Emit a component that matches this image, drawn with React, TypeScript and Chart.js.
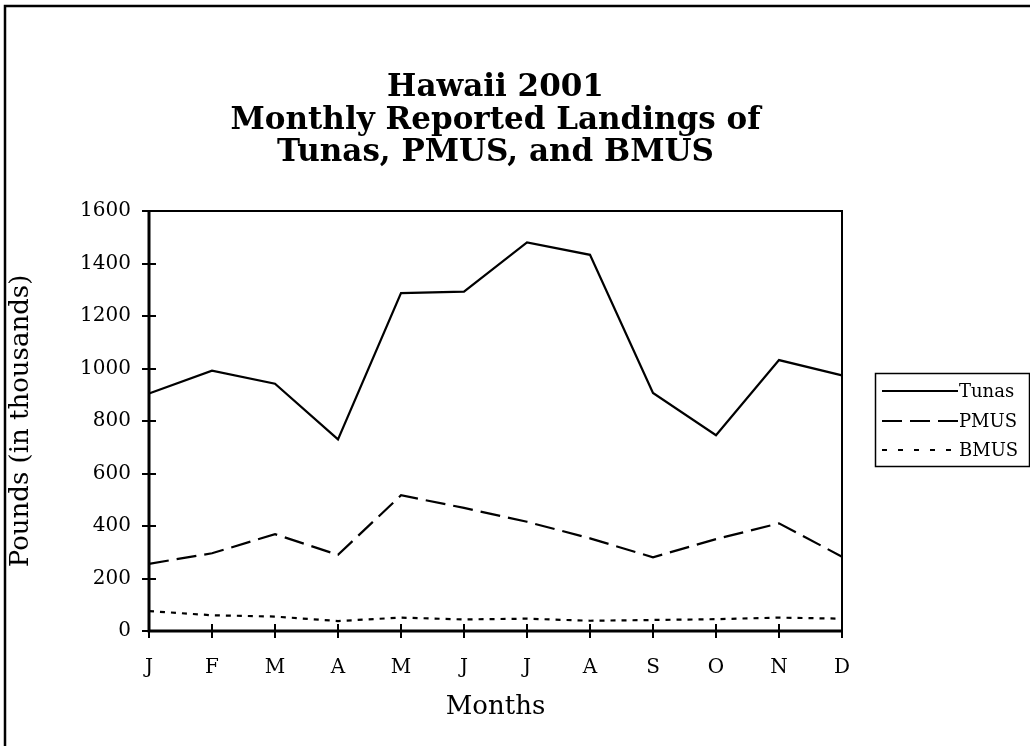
import React, { useEffect, useRef } from "react";
import { Chart, registerables } from "chart.js";

Chart.register(...registerables);

const months = ["J", "F", "M", "A", "M", "J", "J", "A", "S", "O", "N", "D"];
const tunas = [905, 992, 942, 730, 1287, 1293, 1480, 1433, 907, 746, 1032, 974];
const pmus = [256, 296, 369, 290, 517, 469, 416, 353, 281, 350, 410, 283];
const bmus = [76, 60, 55, 38, 51, 44, 47, 39, 42, 45, 51, 47];
const seriesNames = ["Tunas", "PMUS", "BMUS"];
const titleLines = ["Hawaii 2001", "Monthly Reported Landings of", "Tunas, PMUS, and BMUS"];
const yAxisTitle = "Pounds (in thousands)";
const xAxisTitle = "Months";
const yMin = 0;
const yMax = 1600;
const yStep = 200;

const FONT = "'DejaVu Serif', serif";
const legendDashes = [[], [20, 8], [5, 11]];

const framePlugin = {
  id: "frame",
  afterDraw(chart: any) {
    const { ctx, chartArea } = chart;
    const { left, right, top, bottom } = chartArea;
    ctx.save();
    ctx.strokeStyle = "#000";
    // outer border (top and left visible)
    ctx.lineWidth = 2.5;
    ctx.beginPath();
    ctx.moveTo(5, 760);
    ctx.lineTo(5, 6);
    ctx.lineTo(1040, 6);
    ctx.stroke();
    // plot box
    ctx.lineWidth = 2;
    ctx.beginPath();
    ctx.moveTo(left, top);
    ctx.lineTo(right, top);
    ctx.lineTo(right, bottom);
    ctx.stroke();
    ctx.lineWidth = 3;
    ctx.beginPath();
    ctx.moveTo(left, top - 1);
    ctx.lineTo(left, bottom);
    ctx.lineTo(right + 1, bottom);
    ctx.stroke();
    // tick marks crossing the axes
    ctx.lineWidth = 2;
    const ys = chart.scales.y;
    ys.ticks.forEach((_t: any, i: number) => {
      const py = Math.round(ys.getPixelForTick(i));
      ctx.beginPath();
      ctx.moveTo(left - 7, py);
      ctx.lineTo(left + 7, py);
      ctx.stroke();
    });
    const xs = chart.scales.x;
    xs.ticks.forEach((_t: any, i: number) => {
      const px = Math.round(xs.getPixelForTick(i));
      ctx.beginPath();
      ctx.moveTo(px, bottom - 7);
      ctx.lineTo(px, bottom + 7);
      ctx.stroke();
    });
    // legend
    const lx = 875.5, ly = 373.5, lw = 154, lh = 93;
    ctx.lineWidth = 1.5;
    ctx.strokeRect(lx, ly, lw, lh);
    const rows = [391, 421, 450];
    ctx.font = `18px ${FONT}`;
    ctx.textBaseline = "middle";
    ctx.textAlign = "left";
    ctx.fillStyle = "#000";
    chart.data.datasets.forEach((ds: any, i: number) => {
      ctx.save();
      ctx.lineWidth = ds.borderWidth;
      ctx.setLineDash(legendDashes[i]);
      ctx.beginPath();
      ctx.moveTo(882, rows[i]);
      ctx.lineTo(958, rows[i]);
      ctx.stroke();
      ctx.restore();
      ctx.fillText(ds.label, 959, rows[i] + 1);
    });
    ctx.restore();
  },
};

export default function App() {
  const ref = useRef<HTMLCanvasElement>(null);
  useEffect(() => {
    document.body.style.margin = "0";
    const chart = new Chart(ref.current as HTMLCanvasElement, {
      type: "line",
      data: {
        labels: months,
        datasets: [
          { label: seriesNames[0], data: tunas, borderColor: "#000", borderWidth: 2.2, borderDash: [], pointRadius: 0, tension: 0, fill: false },
          { label: seriesNames[1], data: pmus, borderColor: "#000", borderWidth: 2.2, borderDash: [20, 8], pointRadius: 0, tension: 0, fill: false },
          { label: seriesNames[2], data: bmus, borderColor: "#000", borderWidth: 2.2, borderDash: [5, 6], pointRadius: 0, tension: 0, fill: false },
        ],
      },
      options: {
        responsive: false,
        animation: false,
        devicePixelRatio: 1,
        layout: { padding: { left: 0, right: 39, top: 0, bottom: 0 } },
        plugins: {
          legend: { display: false },
          tooltip: { enabled: false },
          title: {
            display: true,
            text: titleLines,
            color: "#000",
            font: { family: FONT, size: 31, weight: "bold", lineHeight: 32.5 / 31 },
            padding: { top: 71.75, bottom: 41.75 },
          },
        },
        scales: {
          x: {
            type: "category",
            offset: false,
            grid: { display: true, drawOnChartArea: false, drawTicks: false, color: "rgba(0,0,0,0)" },
            border: { display: false },
            ticks: { color: "#000", font: { family: FONT, size: 20 }, padding: 25, maxRotation: 0, autoSkip: false },
            title: { display: true, text: xAxisTitle, color: "#000", font: { family: FONT, size: 26 }, padding: { top: 0, bottom: 23 } },
            afterFit(scale: any) {
              scale.height = 115;
            },
          },
          y: {
            min: yMin,
            max: yMax,
            grid: { display: true, drawOnChartArea: false, drawTicks: false, color: "rgba(0,0,0,0)" },
            border: { display: false },
            ticks: { stepSize: yStep, color: "#000", font: { family: FONT, size: 20 }, padding: 18, callback: (v: any) => String(v) },
            title: { display: true, text: yAxisTitle, color: "#000", font: { family: FONT, size: 26 }, padding: { top: 6, bottom: 0 } },
            afterFit(scale: any) {
              scale.width = 149;
            },
          },
          yRight: {
            type: "linear",
            position: "right",
            display: true,
            grid: { display: false },
            border: { display: false },
            ticks: { display: false },
            afterFit(scale: any) {
              scale.width = 149;
            },
          },
        },
      },
      plugins: [framePlugin],
    });
    return () => chart.destroy();
  }, []);
  return (
    <div style={{ position: "fixed", left: 0, top: 0, width: 1030, height: 746, background: "#fff" }}>
      <canvas ref={ref} width={1030} height={746} />
    </div>
  );
}
